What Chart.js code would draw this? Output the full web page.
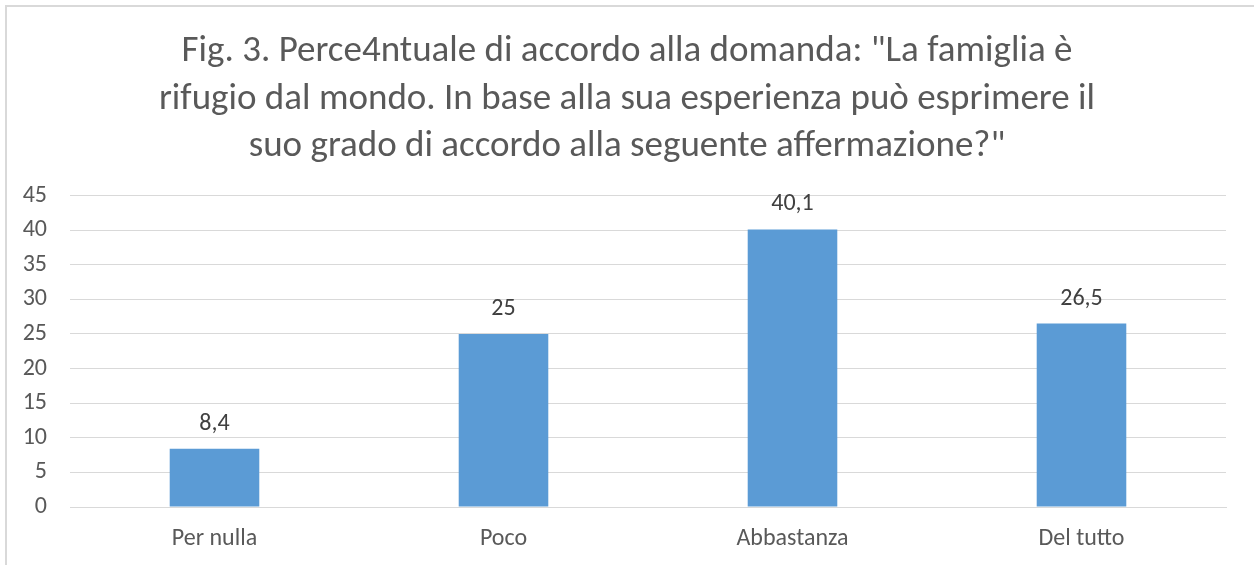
<!DOCTYPE html>
<html>
<head>
<meta charset="utf-8">
<script src="https://cdn.jsdelivr.net/npm/chart.js@4"></script>
<style>
  html, body { margin: 0; padding: 0; background: #fff; overflow: hidden; }
  #wrap { position: relative; width: 1254px; height: 565px; }
  #frame { position: absolute; left: 5px; top: 5px; width: 1262px; height: 580px; border: 2px solid #d9d9d9; box-sizing: border-box; pointer-events: none; }
</style>
</head>
<body>
<div id="wrap">
  <canvas id="barChart" width="1254" height="565"></canvas>
  <div id="frame"></div>
</div>
<script>
let categories = ['Per nulla', 'Poco', 'Abbastanza', 'Del tutto'];//answer options
let percentages = [8.4, 25, 40.1, 26.5];//percent of agreement
let titleLines = ['Fig. 3. Perce4ntuale di accordo alla domanda: "La famiglia è', 'rifugio dal mondo. In base alla sua esperienza può esprimere il', 'suo grado di accordo alla seguente affermazione?"'];

const fontFam = 'Carlito, Lato, "Open Sans", sans-serif';
const gray = '#595959';

// simple label plugin, prints the value over each bar with comma decimal
const barLabels = {
    id: 'barLabels',
    afterDatasetsDraw(chart) {
        const ctx = chart.ctx;
        const meta = chart.getDatasetMeta(0);
        ctx.save();
        ctx.font = '24px ' + fontFam;
        ctx.fillStyle = '#404040';
        ctx.textAlign = 'center';
        ctx.textBaseline = 'middle';
        meta.data.forEach((bar, i) => {
            let txt = String(chart.data.datasets[0].data[i]).replace('.', ',');
            ctx.fillText(txt, bar.x, bar.y - 25);
        });
        ctx.restore();
    }
};

const data = {
    labels: categories,
    datasets: [{
        data: percentages,
        backgroundColor: '#5b9bd5',
        categoryPercentage: 1,
        barPercentage: 0.31
    }]
};

const options = {
    responsive: false,
    animation: false,
    layout: { padding: 0 },
    plugins: {
        legend: { display: false },
        tooltip: { enabled: false },
        title: {
            display: true,
            text: titleLines,
            color: gray,
            font: { family: fontFam, size: 37, weight: 'normal', lineHeight: 1.284 },
            padding: { top: 28, bottom: 25 }
        }
    },
    scales: {
        x: {
            grid: { display: false },
            border: { color: '#d9d9d9', width: 1 },
            ticks: { color: gray, font: { family: fontFam, size: 24 }, padding: 10 },
            afterFit: scale => { scale.height = 58; }
        },
        y: {
            min: 0,
            max: 45,
            ticks: { stepSize: 5, color: gray, font: { family: fontFam, size: 24 }, padding: 23 },
            grid: { color: '#d9d9d9', lineWidth: 1, drawTicks: false },
            border: { display: false },
            afterFit: scale => { scale.width = 70; }
        },
        // empty right axis, only keeps the right margin so the title stays centred
        yRight: {
            position: 'right',
            min: 0,
            max: 45,
            grid: { display: false },
            ticks: { display: false },
            border: { display: false },
            afterFit: scale => { scale.width = 28; }
        }
    }
};

const barChart = new Chart(document.getElementById('barChart').getContext('2d'), {
    type: 'bar',
    data: data,
    options: options,
    plugins: [barLabels]
});
</script>
</body>
</html>
